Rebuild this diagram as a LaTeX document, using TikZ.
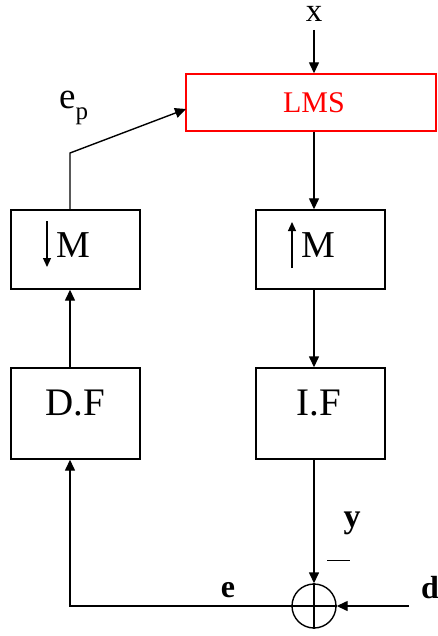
\documentclass[tikz,border=0pt]{standalone}
\usepackage{fontspec}
\setmainfont{Liberation Serif}
\usetikzlibrary{arrows.meta}
\tikzset{
  box/.style={draw, line width=1.4pt, minimum width=129pt, minimum height=79pt, inner sep=0pt},
  lbl/.style={inner sep=0pt, anchor=base},
  arr/.style={line width=1.4pt, -{Triangle[length=11pt,width=10pt]}},
  ln/.style={line width=1.4pt},
}
\begin{document}
\begin{tikzpicture}[x=1pt,y=-1pt]
\useasboundingbox (0,0) rectangle (437,636);
% columns
\coordinate (L) at (70,0);
\coordinate (R) at (314,0);
% boxes
\node[box, draw=red, minimum width=250pt, minimum height=57pt] (lms) at (311,102.5) {};
\node[box] (dm) at (75.5,249.5) {};
\node[box] (um) at (320.5,249.5) {};
\node[box, minimum height=91pt] (df) at (75.5,413.5) {};
\node[box, minimum height=91pt] (if) at (320.5,413.5) {};
\node[draw, circle, line width=1.4pt, minimum size=44pt, inner sep=0pt] (sum) at (314,606) {};
\draw[ln] (sum.north) -- (sum.south);
\draw[ln] (sum.west) -- (sum.east);
% texts
\node[lbl, font=\fontsize{30}{32}\selectfont, text=red] (tlms) at (314,113) {LMS};
\node[lbl, font=\fontsize{33}{36}\selectfont] (tx) at (314,22) {x};
\node[lbl, font=\fontsize{38}{40}\selectfont, anchor=base west] (tdm) at (56,257) {M};
\node[lbl, font=\fontsize{38}{40}\selectfont, anchor=base west] (tum) at (301,257) {M};
\node[lbl, font=\fontsize{39}{42}\selectfont] (tdf) at (75.5,415) {D.F};
\node[lbl, font=\fontsize{39}{42}\selectfont] (tif) at (319,415) {I.F};
\node[lbl, font=\fontsize{37}{38}\selectfont, anchor=base west] (tep) at (59,109) {e\raisebox{-11pt}{\fontsize{25}{26}\selectfont p}};
\node[lbl, font=\fontsize{34}{36}\selectfont\bfseries] (ty) at (352,527) {y};
\node[lbl, font=\fontsize{32}{34}\selectfont\bfseries] (te) at (228,597) {e};
\node[lbl, font=\fontsize{32}{34}\selectfont\bfseries, anchor=base west] (td) at (421,598) {d};
% small arrows inside the M boxes
\coordinate (dma) at (47,221);
\coordinate (dmb) at (47,267);
\draw[line width=1.2pt, -{Triangle[length=9pt,width=8pt]}] (dma) -- (dmb);
\coordinate (uma) at (292,268);
\coordinate (umb) at (292,222);
\draw[line width=1.2pt, -{Triangle[length=9pt,width=8pt]}] (uma) -- (umb);
% underbar
\coordinate (ub1) at (327,560);
\coordinate (ub2) at (350,560);
\draw[line width=1pt] (ub1) -- (ub2);
% connectors
\coordinate (xin) at (314,30);
\coordinate (din) at (409,606);
\coordinate (bend) at (70,153);
\coordinate (lmsin) at (186,109);
\draw[arr] (xin) -- (lms.north -| R);
\draw[arr] (lms.south -| R) -- (um.north -| R);
\draw[arr] (um.south -| R) -- (if.north -| R);
\draw[arr] (if.south -| R) -- (sum.north);
\draw[arr] (din) -- (sum.east);
\draw[arr] (sum.west) -- (L |- sum) -- (df.south -| L);
\draw[arr] (df.north -| L) -- (dm.south -| L);
\draw[arr] (dm.north -| L) -- (bend) -- (lmsin);
\end{tikzpicture}
\end{document}
